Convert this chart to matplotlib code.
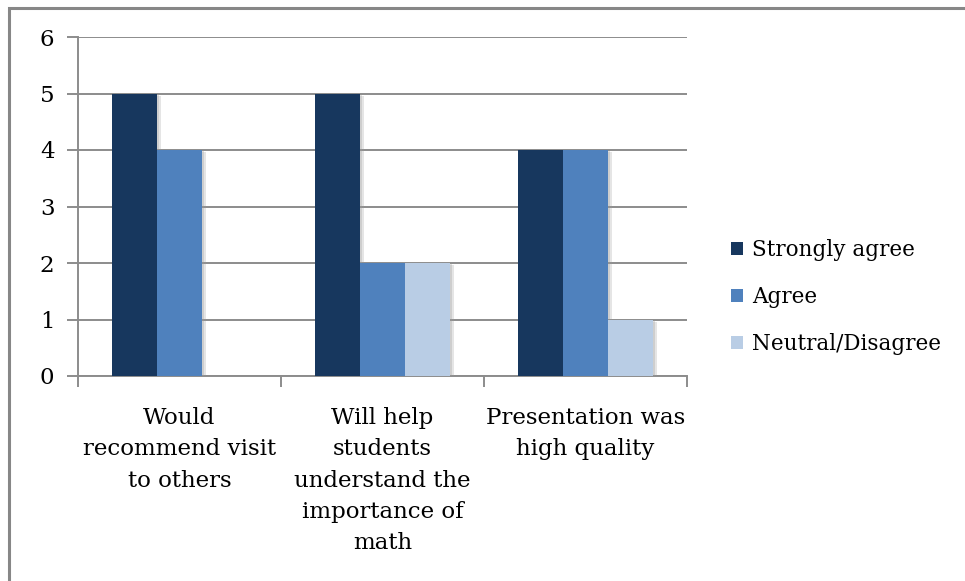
import matplotlib
matplotlib.use("Agg")
import matplotlib.pyplot as plt
import matplotlib.patheffects as pe
from matplotlib.patches import Rectangle
import numpy as np

categories = [
    "Would\nrecommend visit\nto others",
    "Will help\nstudents\nunderstand the\nimportance of\nmath",
    "Presentation was\nhigh quality",
]
series_names = ["Strongly agree", "Agree", "Neutral/Disagree"]
strongly_agree = [5, 5, 4]
agree = [4, 2, 4]
neutral_disagree = [0, 2, 1]
y_ticks = [0, 1, 2, 3, 4, 5, 6]

colors = ["#17375E", "#4F81BD", "#B9CDE5"]
grid_color = "#8C8C8C"
font = ["DejaVu Serif"]

fig = plt.figure(figsize=(9.65, 5.81), dpi=100)
fig.patch.set_facecolor("white")

# chart-area border (runs off the right and bottom edges)
fig.patches.append(Rectangle((9 / 965, -0.05), 1.2, (581 - 8) / 581 + 0.05,
                             transform=fig.transFigure, fill=False,
                             edgecolor="#878787", linewidth=2.2))

ax = fig.add_axes([78 / 965, (581 - 376) / 581, (687 - 78) / 965, (376 - 37) / 581])

n = len(categories)
x = np.arange(n)
width = 1 / 4.5
values = [strongly_agree, agree, neutral_disagree]
shadow = [pe.SimplePatchShadow(offset=(3, -1.5), shadow_rgbFace="#999999", alpha=0.25),
          pe.SimplePatchShadow(offset=(1.5, -0.8), shadow_rgbFace="#999999", alpha=0.3),
          pe.Normal()]
for i, (vals, col, name) in enumerate(zip(values, colors, series_names)):
    bars = ax.bar(x + (i - 1) * width, vals, width, color=col, label=name,
                  zorder=3, linewidth=0)
    for b in bars:
        if b.get_height() > 0:
            b.set_path_effects(shadow)

ax.set_xlim(-0.5, n - 0.5)
ax.set_ylim(0, 6)
ax.set_yticks(y_ticks)
ax.set_yticklabels([str(t) for t in y_ticks], fontfamily=font, fontsize=16.5)
ax.yaxis.grid(True, color=grid_color, linewidth=1.4, zorder=0)
ax.set_axisbelow(True)

for side in ["top", "right"]:
    ax.spines[side].set_visible(False)
for side in ["left", "bottom"]:
    ax.spines[side].set_color(grid_color)
    ax.spines[side].set_linewidth(1.4)
ax.tick_params(axis="y", length=8, width=1.4, color=grid_color, pad=9)

# category labels centred on each group, boundary ticks between groups
ax.set_xticks(np.arange(-0.5, n, 1.0))
ax.set_xticklabels([""] * (n + 1))
ax.tick_params(axis="x", length=8, width=1.4, color=grid_color)
for xi, lab in zip(x, categories):
    ax.text(xi, -0.55, lab, ha="center", va="top", fontfamily=font,
            fontsize=16.5, linespacing=1.55, transform=ax.transData)

handles, labels = ax.get_legend_handles_labels()
leg = fig.legend(handles, labels, loc="center left",
                 bbox_to_anchor=(731 / 965, (581 - 297) / 581),
                 frameon=False, prop={"family": font, "size": 15.5},
                 borderpad=0, borderaxespad=0,
                 handlelength=0.56, handleheight=0.56, handletextpad=0.42,
                 labelspacing=1.15)
for h in leg.legend_handles:
    h.set_path_effects([])

fig.savefig("out.png", dpi=100, facecolor="white")
